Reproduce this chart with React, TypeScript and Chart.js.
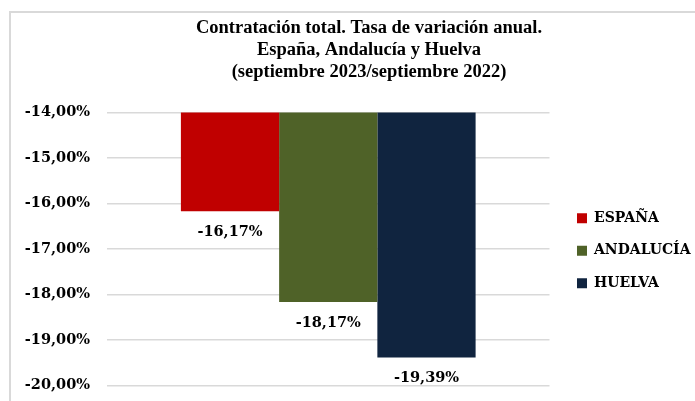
import React, { useEffect, useRef } from "react";
import { Chart, registerables } from "chart.js";

Chart.register(...registerables);

const titleLines = [
  "Contratación total. Tasa de variación anual.",
  "España, Andalucía y Huelva",
  "(septiembre 2023/septiembre 2022)",
];
const categories = [""];
const seriesNames = ["ESPAÑA", "ANDALUCÍA", "HUELVA"];
const seriesValues = [[-16.17], [-18.17], [-19.39]];
const seriesColors = ["#C00000", "#4F6228", "#10243F"];
const yMin = -20;
const yMax = -14;
const yStep = 1;

const fmt = (v: number) => v.toFixed(2).replace(".", ",") + "%";

const tickFont = { family: "'DejaVu Serif'", size: 14.5, weight: "bold" as const };
const legendFont = { family: "'DejaVu Serif'", size: 14, weight: "bold" as const };

const dataLabels = {
  id: "dataLabels",
  afterDatasetsDraw(chart: any) {
    const ctx = chart.ctx;
    ctx.save();
    ctx.font = "bold 14.5px 'DejaVu Serif'";
    ctx.fillStyle = "#000";
    ctx.textAlign = "center";
    ctx.textBaseline = "middle";
    chart.data.datasets.forEach((ds: any, i: number) => {
      const meta = chart.getDatasetMeta(i);
      meta.data.forEach((el: any, j: number) => {
        ctx.fillText(fmt(ds.data[j]), el.x, el.y + 21);
      });
    });
    ctx.restore();
  },
};

const spacerAxis = (width: number, weight: number) => ({
  type: "linear",
  position: "right",
  display: true,
  weight,
  grid: { display: false, drawTicks: false },
  ticks: { display: false },
  border: { display: false },
  afterFit: (s: any) => {
    s.width = width;
  },
});

export default function App() {
  const ref = useRef<HTMLCanvasElement>(null);
  useEffect(() => {
    if (!ref.current) return;
    const chart = new Chart(ref.current, {
      type: "bar",
      data: {
        labels: categories,
        datasets: seriesNames.map((n, i) => ({
          label: n,
          data: seriesValues[i],
          backgroundColor: seriesColors[i],
          borderWidth: 0,
          categoryPercentage: 0.666,
          barPercentage: 1,
        })),
      },
      options: {
        animation: false,
        responsive: false,
        devicePixelRatio: 1,
        layout: { padding: { left: 0, right: 0, top: 0, bottom: 0 } },
        plugins: {
          title: {
            display: true,
            text: titleLines,
            color: "#000",
            font: { family: "'Liberation Serif'", size: 18.5, weight: "bold", lineHeight: 1.2 },
            padding: { top: 17, bottom: 28.9 },
          },
          legend: {
            display: true,
            position: "right",
            fullSize: false,
            align: "center",
            maxWidth: 250,
            title: { display: true, text: " ", font: { size: 10, lineHeight: 0.35 }, padding: 0 },
            labels: {
              boxWidth: 10,
              boxHeight: 10,
              padding: 18.5,
              color: "#000",
              font: legendFont,
            },
          },
          tooltip: { enabled: false },
        },
        scales: {
          x: { display: false },
          y: {
            position: "left",
            min: yMin,
            max: yMax,
            ticks: {
              stepSize: yStep,
              padding: 17,
              color: "#000",
              font: tickFont,
              callback: (v: any) => fmt(Number(v)),
            },
            grid: { color: "#d9d9d9", lineWidth: 1.5, drawTicks: false },
            border: { display: false },
            afterFit: (s: any) => {
              s.width = 107;
            },
          },
          spacer: spacerAxis(9, 0),
          spacerOuter: spacerAxis(37.5, 2000),
        },
      } as any,
      plugins: [dataLabels],
    });
    return () => chart.destroy();
  }, []);

  return (
    <div
      style={{
        position: "fixed",
        left: 0,
        top: 0,
        width: 695,
        height: 401,
        overflow: "hidden",
        background: "#fff",
      }}
    >
      <div
        style={{
          position: "absolute",
          left: 9,
          top: 11,
          width: 800,
          height: 500,
          border: "2px solid #d9d9d9",
          boxSizing: "border-box",
        }}
      />
      <canvas
        ref={ref}
        width={738}
        height={411}
        style={{ position: "absolute", left: 0, top: 0, width: 738, height: 411 }}
      />
    </div>
  );
}
